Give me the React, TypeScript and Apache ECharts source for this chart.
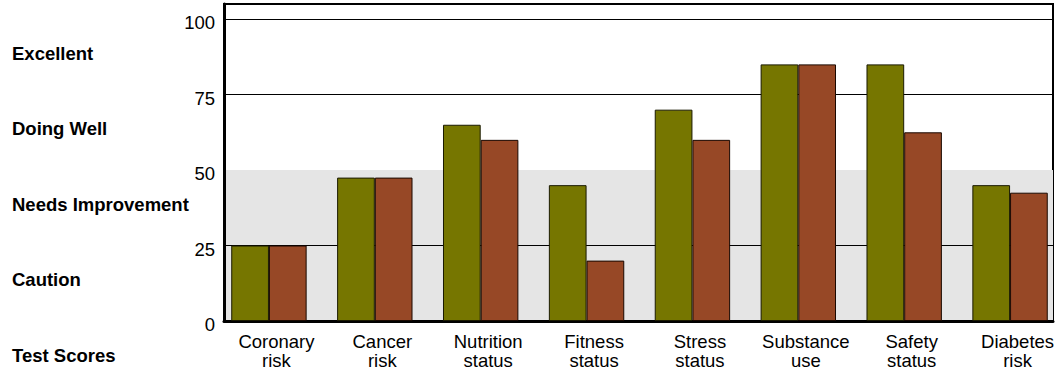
import React, { useEffect, useRef } from "react";
import * as echarts from "echarts";

const categories = [
  "Coronary\nrisk",
  "Cancer\nrisk",
  "Nutrition\nstatus",
  "Fitness\nstatus",
  "Stress\nstatus",
  "Substance\nuse",
  "Safety\nstatus",
  "Diabetes\nrisk",
];
const seriesA = [25, 47.5, 65, 45, 70, 85, 85, 45];
const seriesB = [25, 47.5, 60, 20, 60, 85, 62.5, 42.5];
const bandLabels = ["Excellent", "Doing Well", "Needs Improvement", "Caution", "Test Scores"];

const FONT = "'Liberation Sans', Arial, sans-serif";

export default function App() {
  const ref = useRef<HTMLDivElement>(null);
  useEffect(() => {
    if (!ref.current) return;
    const chart = echarts.init(ref.current, undefined, { renderer: "svg" });
    chart.setOption({
      animation: false,
      textStyle: { fontFamily: FONT },
      grid: [
        // frame grid
        {
          left: 224, right: 4, top: 4, bottom: 49, show: true, borderColor: "#000", borderWidth: 2,
          backgroundColor: "transparent", outerBoundsMode: "none", containLabel: false,
        },
        // bar grid
        { left: 216, width: 847, top: 4, bottom: 49, outerBoundsMode: "none", containLabel: false },
        // band label grid
        { left: 20, width: 2, top: 53, bottom: 15, outerBoundsMode: "none", containLabel: false },
      ],
      xAxis: [
        {
          gridIndex: 0, type: "value", min: 0, max: 1,
          axisLine: { show: true, onZero: false, lineStyle: { color: "#000", width: 3 } },
          axisTick: { show: false }, axisLabel: { show: false }, splitLine: { show: false },
        },
        {
          gridIndex: 1, type: "category", data: categories,
          axisLine: { show: false }, axisTick: { show: false }, splitLine: { show: false },
          axisLabel: {
            color: "#000", fontSize: 18.5, fontFamily: FONT, lineHeight: 19.5, margin: 10.5,
            padding: [0, 0, 0, 15], interval: 0,
          },
        },
        {
          gridIndex: 2, type: "value", show: false, min: 0, max: 1,
        },
      ],
      yAxis: [
        {
          gridIndex: 0, type: "value", min: 0, max: 105, interval: 25,
          axisLine: { show: true, lineStyle: { color: "#000", width: 3 } },
          axisTick: { show: false },
          axisLabel: {
            color: "#000", fontSize: 18.5, fontFamily: FONT, margin: 9, showMaxLabel: false,
            verticalAlign: "top", lineHeight: 7,
          },
          splitLine: {
            show: true,
            lineStyle: { color: ["#000", "#000", "rgba(0,0,0,0)", "#000", "#000", "rgba(0,0,0,0)"], width: 1 },
          },
          splitArea: {
            show: true,
            areaStyle: { color: ["#e5e5e5", "#e5e5e5", "rgba(0,0,0,0)", "rgba(0,0,0,0)", "rgba(0,0,0,0)"] },
          },
        },
        {
          gridIndex: 1, type: "value", min: 0, max: 105, show: false,
        },
        {
          gridIndex: 2, type: "category", data: bandLabels, inverse: true, boundaryGap: false,
          axisLine: { show: false }, axisTick: { show: false }, splitLine: { show: false },
          axisLabel: { color: "#000", fontSize: 18.5, fontWeight: "bold", fontFamily: FONT, align: "left", margin: 8, interval: 0 },
        },
      ],
      series: [
        {
          type: "bar", xAxisIndex: 1, yAxisIndex: 1, data: seriesA, barWidth: 37.7, barGap: "0%", z: 5,
          itemStyle: { color: "#767600", borderColor: "#1a1a00", borderWidth: 1 },
        },
        {
          type: "bar", xAxisIndex: 1, yAxisIndex: 1, data: seriesB, barWidth: 37.7, barGap: "0%", z: 5,
          itemStyle: { color: "#974826", borderColor: "#1a0800", borderWidth: 1 },
        },
      ],
    });
    return () => chart.dispose();
  }, []);
  return <div ref={ref} style={{ width: 1057, height: 370, position: "absolute", left: 0, top: 0 }} />;
}
